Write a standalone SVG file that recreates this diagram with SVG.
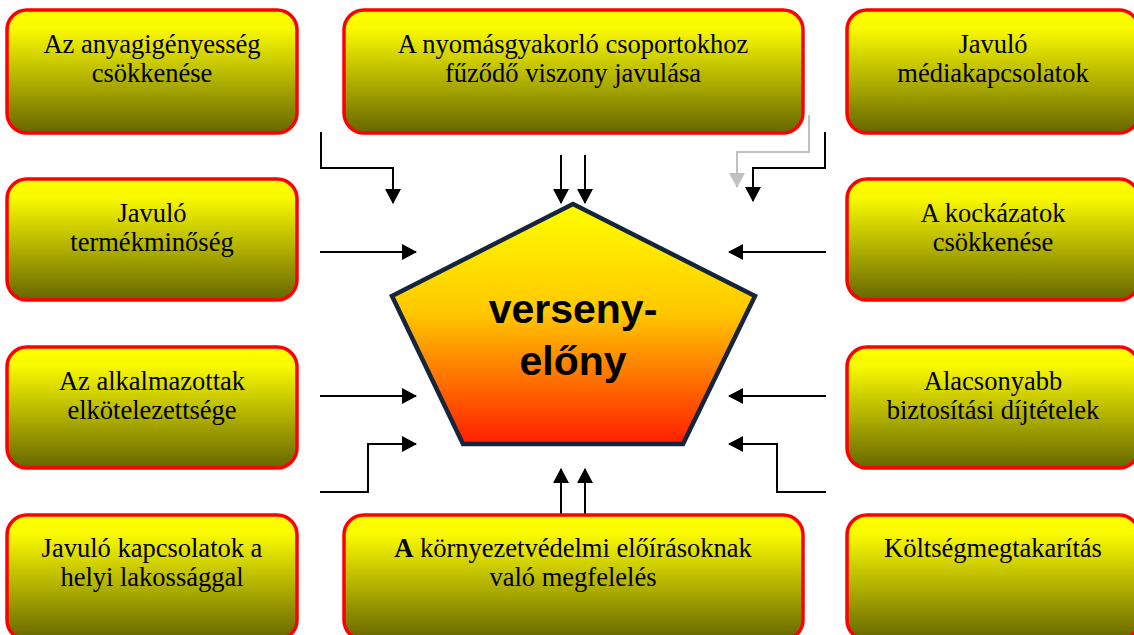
<svg xmlns="http://www.w3.org/2000/svg" width="1134" height="635" viewBox="0 0 1134 635">
<defs>
<linearGradient id="boxg" x1="0" y1="0" x2="0" y2="1">
<stop offset="0" stop-color="#ffff00"/>
<stop offset="0.15" stop-color="#fafa00"/>
<stop offset="1" stop-color="#666600"/>
</linearGradient>
<linearGradient id="pentg" x1="0" y1="0" x2="0" y2="1">
<stop offset="0" stop-color="#ffff00"/>
<stop offset="0.45" stop-color="#ffc800"/>
<stop offset="1" stop-color="#ff1e00"/>
</linearGradient>
<marker id="ah" viewBox="0 0 15 16" refX="14" refY="8" markerWidth="15" markerHeight="16" markerUnits="userSpaceOnUse" orient="auto">
<path d="M0,0 L15,8 L0,16 z" fill="#000"/>
</marker>
<marker id="ahg" viewBox="0 0 15 16" refX="14" refY="8" markerWidth="15" markerHeight="16" markerUnits="userSpaceOnUse" orient="auto">
<path d="M0,0 L15,8 L0,16 z" fill="#c0c0c0"/>
</marker>
</defs>
<style>
.box{fill:url(#boxg);stroke:#ff0000;stroke-width:3.5}
.t{font-family:"Liberation Serif","Times New Roman",serif;font-size:26.5px;fill:#000;text-anchor:middle}
.c{fill:none;stroke:#000;stroke-width:2;marker-end:url(#ah)}
.cg{fill:none;stroke:#c0c0c0;stroke-width:2;marker-end:url(#ahg)}
.p{font-family:"Liberation Sans",Arial,sans-serif;font-weight:bold;font-size:41px;fill:#000;text-anchor:middle}
</style>
<rect width="1134" height="635" fill="#fff"/>

<g id="connectors">
<path class="c" d="M321,132 V168 H393 V203"/>
<path class="c" d="M561,155 V203"/>
<path class="c" d="M585,155 V203"/>
<path class="cg" d="M809,115 V152 H737 V187"/>
<path class="c" d="M825,132 V168 H753 V201"/>
<path class="c" d="M320,252 H416"/>
<path class="c" d="M320,396 H416"/>
<path class="c" d="M320,492 H368 V444 H416"/>
<path class="c" d="M826,252 H729"/>
<path class="c" d="M826,396 H729"/>
<path class="c" d="M826,492 H777 V444 H729"/>
<path class="c" d="M561,515 V469"/>
<path class="c" d="M585,515 V469"/>
</g>

<g id="center">
<polygon points="573,204 755,296 683,444 463,444 392,296" fill="url(#pentg)" stroke="#14253d" stroke-width="4.5" stroke-linejoin="miter"/>
<text class="p" x="573" y="323">verseny-</text>
<text class="p" x="573" y="375">előny</text>
</g>

<g id="n1">
<rect class="box" x="7" y="10" width="290" height="123" rx="20"/>
<text class="t" x="152" y="53">Az anyagigényesség</text>
<text class="t" x="152" y="82">csökkenése</text>
</g>
<g id="n2">
<rect class="box" x="344" y="10" width="459" height="123" rx="20"/>
<text class="t" x="573" y="53">A nyomásgyakorló csoportokhoz</text>
<text class="t" x="573" y="82">fűződő viszony javulása</text>
</g>
<g id="n3">
<rect class="box" x="847" y="10" width="292" height="123" rx="20"/>
<text class="t" x="993" y="53">Javuló</text>
<text class="t" x="993" y="82">médiakapcsolatok</text>
</g>
<g id="n4">
<rect class="box" x="7" y="179" width="290" height="121" rx="20"/>
<text class="t" x="152" y="222">Javuló</text>
<text class="t" x="152" y="251">termékminőség</text>
</g>
<g id="n5">
<rect class="box" x="847" y="179" width="292" height="121" rx="20"/>
<text class="t" x="993" y="222">A kockázatok</text>
<text class="t" x="993" y="251">csökkenése</text>
</g>
<g id="n6">
<rect class="box" x="7" y="347" width="290" height="121" rx="20"/>
<text class="t" x="152" y="390">Az alkalmazottak</text>
<text class="t" x="152" y="419">elkötelezettsége</text>
</g>
<g id="n7">
<rect class="box" x="847" y="347" width="292" height="121" rx="20"/>
<text class="t" x="993" y="390">Alacsonyabb</text>
<text class="t" x="993" y="419">biztosítási díjtételek</text>
</g>
<g id="n8">
<rect class="box" x="7" y="515" width="290" height="125" rx="20"/>
<text class="t" x="152" y="557">Javuló kapcsolatok a</text>
<text class="t" x="152" y="586">helyi lakossággal</text>
</g>
<g id="n9">
<rect class="box" x="344" y="515" width="459" height="125" rx="20"/>
<text class="t" x="573" y="557"><tspan font-weight="bold">A</tspan> környezetvédelmi előírásoknak</text>
<text class="t" x="573" y="586">való megfelelés</text>
</g>
<g id="n10">
<rect class="box" x="847" y="515" width="292" height="125" rx="20"/>
<text class="t" x="993" y="557">Költségmegtakarítás</text>
</g>
</svg>
